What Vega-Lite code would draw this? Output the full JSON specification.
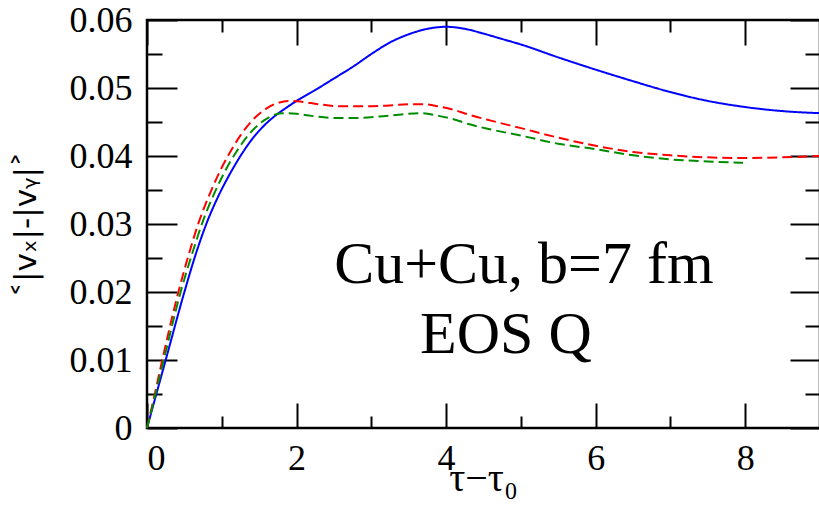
{
  "$schema": "https://vega.github.io/schema/vega-lite/v6.json",
  "width": 673,
  "height": 408,
  "autosize": "none",
  "padding": {"left": 147, "top": 20, "right": 0, "bottom": 82},
  "background": "white",
  "config": {"view": {"stroke": "black", "strokeWidth": 2.5}},
  "datasets": {
    "curves": [
      {"s": "blue", "t": 0, "v": 0},
      {"s": "blue", "t": 0.25, "v": 0.0100},
      {"s": "blue", "t": 0.5, "v": 0.0200},
      {"s": "blue", "t": 0.65, "v": 0.0255},
      {"s": "blue", "t": 0.8, "v": 0.0302},
      {"s": "blue", "t": 0.95, "v": 0.0340},
      {"s": "blue", "t": 1.1, "v": 0.0372},
      {"s": "blue", "t": 1.25, "v": 0.0400},
      {"s": "blue", "t": 1.4, "v": 0.0424},
      {"s": "blue", "t": 1.55, "v": 0.0443},
      {"s": "blue", "t": 1.7, "v": 0.0458},
      {"s": "blue", "t": 1.85, "v": 0.0470},
      {"s": "blue", "t": 2.0, "v": 0.0481},
      {"s": "blue", "t": 2.25, "v": 0.0497},
      {"s": "blue", "t": 2.5, "v": 0.0514},
      {"s": "blue", "t": 2.75, "v": 0.0531},
      {"s": "blue", "t": 3.0, "v": 0.0550},
      {"s": "blue", "t": 3.25, "v": 0.0567},
      {"s": "blue", "t": 3.5, "v": 0.0579},
      {"s": "blue", "t": 3.75, "v": 0.0587},
      {"s": "blue", "t": 4.0, "v": 0.0590},
      {"s": "blue", "t": 4.25, "v": 0.0587},
      {"s": "blue", "t": 4.5, "v": 0.0580},
      {"s": "blue", "t": 4.75, "v": 0.0572},
      {"s": "blue", "t": 5.0, "v": 0.0564},
      {"s": "blue", "t": 5.5, "v": 0.0545},
      {"s": "blue", "t": 6.0, "v": 0.0527},
      {"s": "blue", "t": 6.5, "v": 0.0510},
      {"s": "blue", "t": 7.0, "v": 0.0494},
      {"s": "blue", "t": 7.5, "v": 0.0481},
      {"s": "blue", "t": 8.0, "v": 0.0472},
      {"s": "blue", "t": 8.5, "v": 0.0466},
      {"s": "blue", "t": 9.0, "v": 0.0463},
      {"s": "red", "t": 0, "v": 0},
      {"s": "red", "t": 0.1, "v": 0.0048},
      {"s": "red", "t": 0.2, "v": 0.0098},
      {"s": "red", "t": 0.42, "v": 0.0200},
      {"s": "red", "t": 0.55, "v": 0.0252},
      {"s": "red", "t": 0.7, "v": 0.0305},
      {"s": "red", "t": 0.85, "v": 0.0347},
      {"s": "red", "t": 1.0, "v": 0.0383},
      {"s": "red", "t": 1.15, "v": 0.0413},
      {"s": "red", "t": 1.3, "v": 0.0438},
      {"s": "red", "t": 1.45, "v": 0.0457},
      {"s": "red", "t": 1.6, "v": 0.0470},
      {"s": "red", "t": 1.75, "v": 0.0478},
      {"s": "red", "t": 1.9, "v": 0.0481},
      {"s": "red", "t": 2.05, "v": 0.0480},
      {"s": "red", "t": 2.3, "v": 0.0476},
      {"s": "red", "t": 2.6, "v": 0.0473},
      {"s": "red", "t": 2.9, "v": 0.0473},
      {"s": "red", "t": 3.2, "v": 0.0474},
      {"s": "red", "t": 3.5, "v": 0.0476},
      {"s": "red", "t": 3.7, "v": 0.0476},
      {"s": "red", "t": 3.9, "v": 0.0473},
      {"s": "red", "t": 4.1, "v": 0.0468},
      {"s": "red", "t": 4.3, "v": 0.0461},
      {"s": "red", "t": 4.6, "v": 0.0452},
      {"s": "red", "t": 5.0, "v": 0.0441},
      {"s": "red", "t": 5.5, "v": 0.0427},
      {"s": "red", "t": 6.0, "v": 0.0415},
      {"s": "red", "t": 6.5, "v": 0.0406},
      {"s": "red", "t": 7.0, "v": 0.0401},
      {"s": "red", "t": 7.5, "v": 0.0398},
      {"s": "red", "t": 8.0, "v": 0.0397},
      {"s": "red", "t": 8.5, "v": 0.0398},
      {"s": "red", "t": 9.0, "v": 0.0400},
      {"s": "green", "t": 0, "v": 0},
      {"s": "green", "t": 0.1, "v": 0.0044},
      {"s": "green", "t": 0.22, "v": 0.0098},
      {"s": "green", "t": 0.45, "v": 0.0200},
      {"s": "green", "t": 0.6, "v": 0.0255},
      {"s": "green", "t": 0.75, "v": 0.0305},
      {"s": "green", "t": 0.9, "v": 0.0345},
      {"s": "green", "t": 1.05, "v": 0.0379},
      {"s": "green", "t": 1.2, "v": 0.0407},
      {"s": "green", "t": 1.35, "v": 0.0430},
      {"s": "green", "t": 1.5, "v": 0.0447},
      {"s": "green", "t": 1.65, "v": 0.0458},
      {"s": "green", "t": 1.8, "v": 0.0463},
      {"s": "green", "t": 2.0, "v": 0.0462},
      {"s": "green", "t": 2.2, "v": 0.0459},
      {"s": "green", "t": 2.5, "v": 0.0456},
      {"s": "green", "t": 2.8, "v": 0.0456},
      {"s": "green", "t": 3.1, "v": 0.0458},
      {"s": "green", "t": 3.4, "v": 0.0461},
      {"s": "green", "t": 3.65, "v": 0.0463},
      {"s": "green", "t": 3.9, "v": 0.0459},
      {"s": "green", "t": 4.1, "v": 0.0454},
      {"s": "green", "t": 4.3, "v": 0.0447},
      {"s": "green", "t": 4.6, "v": 0.0439},
      {"s": "green", "t": 5.0, "v": 0.0430},
      {"s": "green", "t": 5.5, "v": 0.0418},
      {"s": "green", "t": 6.0, "v": 0.0410},
      {"s": "green", "t": 6.5, "v": 0.0401},
      {"s": "green", "t": 7.0, "v": 0.0395},
      {"s": "green", "t": 7.5, "v": 0.0392},
      {"s": "green", "t": 7.97, "v": 0.0390}
    ],
    "note1": [{"label": "Cu+Cu, b=7 fm"}],
    "note2": [{"label": "EOS Q"}]
  },
  "data": {"name": "curves"},
  "resolve": {
    "scale": {"x": "shared", "y": "shared"},
    "axis": {"x": "independent", "y": "independent"}
  },
  "layer": [
    {
      "mark": {"type": "line", "strokeWidth": 2, "interpolate": "monotone"},
      "encoding": {
        "x": {
          "field": "t", "type": "quantitative",
          "scale": {"domain": [0, 9], "nice": false, "zero": false},
          "axis": {
            "orient": "bottom", "values": [0, 1, 2, 3, 4, 5, 6, 7, 8, 9], "grid": false, "domain": false,
            "tickSize": {"condition": {"test": "datum.value % 2 === 0", "value": -25}, "value": -12},
            "tickWidth": 2, "tickColor": "black",
            "labelExpr": "datum.value % 2 === 0 ? datum.label : ''",
            "labelFont": "Liberation Serif", "labelFontSize": 36, "labelColor": "black", "labelPadding": 38,
            "title": "τ−τ₀", "titleFont": "Liberation Serif", "titleFontSize": 40,
            "titleFontWeight": "normal", "titleColor": "black",
            "titleX": 336, "titleY": 62, "titleAlign": "center", "titleBaseline": "alphabetic"
          }
        },
        "y": {
          "field": "v", "type": "quantitative",
          "scale": {"domain": [0, 0.06], "nice": false},
          "axis": {
            "orient": "left",
            "values": [0, 0.005, 0.01, 0.015, 0.02, 0.025, 0.03, 0.035, 0.04, 0.045, 0.05, 0.055, 0.06],
            "format": ".2~f", "grid": false, "domain": false,
            "tickSize": {"condition": {"test": "round(datum.value * 200) % 2 === 0", "value": -30}, "value": -15},
            "tickWidth": 2, "tickColor": "black",
            "labelExpr": "round(datum.value * 200) % 2 === 0 ? datum.label : ''",
            "labelFont": "Liberation Serif", "labelFontSize": 36, "labelColor": "black", "labelPadding": 45,
            "title": "˂|vₓ|-|vᵧ|˃", "titleFont": "DejaVu Sans", "titleFontSize": 31,
            "titleFontWeight": "normal", "titleColor": "black",
            "titleX": -112, "titleY": 204, "titleAngle": -90, "titleAlign": "center", "titleBaseline": "alphabetic"
          }
        },
        "color": {
          "field": "s", "type": "nominal", "legend": null,
          "scale": {"domain": ["green", "red", "blue"], "range": ["#008c00", "#ff0000", "#0000ff"]}
        },
        "strokeDash": {
          "field": "s", "type": "nominal", "legend": null,
          "scale": {"domain": ["green", "red", "blue"], "range": [[10, 5], [10, 5], [1, 0]]}
        }
      }
    },
    {
      "mark": {"type": "line", "opacity": 0},
      "encoding": {
        "x": {"field": "t", "type": "quantitative",
          "axis": {"orient": "top", "values": [0, 1, 2, 3, 4, 5, 6, 7, 8, 9], "grid": false, "domain": false,
            "tickSize": {"condition": {"test": "datum.value % 2 === 0", "value": -25}, "value": -12},
            "tickWidth": 2, "tickColor": "black", "labels": false, "title": null}},
        "y": {"field": "v", "type": "quantitative",
          "axis": {"orient": "right",
            "values": [0, 0.005, 0.01, 0.015, 0.02, 0.025, 0.03, 0.035, 0.04, 0.045, 0.05, 0.055, 0.06],
            "grid": false, "domain": false,
            "tickSize": {"condition": {"test": "round(datum.value * 200) % 2 === 0", "value": -30}, "value": -15},
            "tickWidth": 2, "tickColor": "black", "labels": false, "title": null}}
      }
    },
    {
      "data": {"name": "note1"},
      "mark": {"type": "text", "font": "Liberation Serif", "fontSize": 60, "align": "center", "baseline": "alphabetic", "color": "black"},
      "encoding": {
        "x": {"datum": 5.04, "type": "quantitative", "axis": null},
        "y": {"datum": 0.0213, "type": "quantitative", "axis": null},
        "text": {"field": "label"}
      }
    },
    {
      "data": {"name": "note2"},
      "mark": {"type": "text", "font": "Liberation Serif", "fontSize": 60, "align": "center", "baseline": "alphabetic", "color": "black"},
      "encoding": {
        "x": {"datum": 4.8, "type": "quantitative", "axis": null},
        "y": {"datum": 0.011, "type": "quantitative", "axis": null},
        "text": {"field": "label"}
      }
    }
  ]
}
